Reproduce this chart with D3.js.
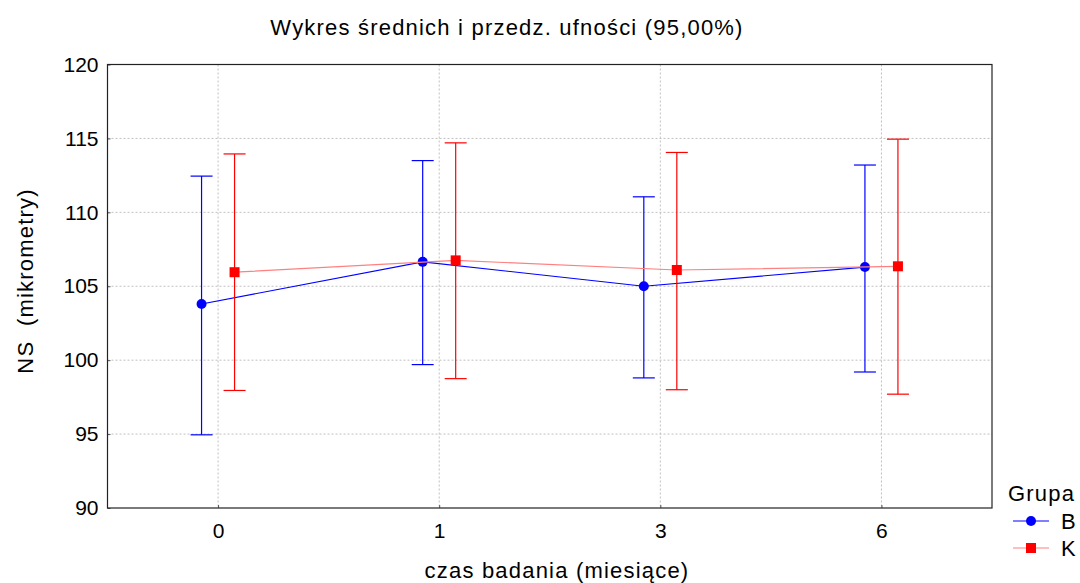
<!DOCTYPE html>
<html>
<head>
<meta charset="utf-8">
<script src="https://cdn.jsdelivr.net/npm/d3@7"></script>
<style>
  body { margin: 0; background: #fff; }
  text { font-family: "Liberation Sans", Arial, sans-serif; fill: #000; }
  .lbl { letter-spacing: 1.2px; white-space: pre; font-size: 22px; }
</style>
</head>
<body>
<div id="chart"></div>
<script>
// data
const times = ["0", "1", "3", "6"];
const groups = ["B", "K"];
const meanB = [103.8, 106.65, 105.0, 106.3];
const lowB  = [94.95, 99.7, 98.8, 99.2];
const highB = [112.45, 113.5, 111.05, 113.2];
const meanK = [105.95, 106.75, 106.1, 106.35];
const lowK  = [97.95, 98.75, 98.0, 97.7];
const highK = [113.95, 114.7, 114.05, 114.95];
const yTicks = [90, 95, 100, 105, 110, 115, 120];

const width = 1080, height = 583;
const margin = { left: 107.5, right: 88, top: 64.5, bottom: 75 };

const svg = d3.select("#chart").append("svg")
    .attr("width", width)
    .attr("height", height);

const x = d3.scalePoint()
    .domain(times)
    .range([margin.left, width - margin.right])
    .padding(0.5);

const y = d3.scaleLinear()
    .domain([90, 120])
    .range([height - margin.bottom, margin.top]);

// grid
svg.append("g").selectAll("line.gy")
    .data(yTicks.slice(1, -1))
    .enter().append("line")
    .attr("x1", margin.left).attr("x2", width - margin.right)
    .attr("y1", d => y(d)).attr("y2", d => y(d))
    .attr("stroke", "#c0c0c0")
    .attr("stroke-dasharray", "2,2");

svg.append("g").selectAll("line.gx")
    .data(times)
    .enter().append("line")
    .attr("x1", d => x(d)).attr("x2", d => x(d))
    .attr("y1", margin.top).attr("y2", height - margin.bottom)
    .attr("stroke", "#c0c0c0")
    .attr("stroke-dasharray", "2,2");

// axes
const yAxis = svg.append("g")
    .attr("transform", `translate(${margin.left},0)`)
    .call(d3.axisLeft(y).tickValues(yTicks).tickSize(-3).tickPadding(9));
const xAxis = svg.append("g")
    .attr("transform", `translate(0,${height - margin.bottom})`)
    .call(d3.axisBottom(x).tickSize(-3).tickPadding(15));

[yAxis, xAxis].forEach(a => {
    a.select(".domain").remove();
    a.selectAll(".tick line").attr("stroke", "#555");
    a.selectAll("text").style("font-size", "21px").attr("fill", "#000");
});

// frame
svg.append("rect")
    .attr("x", margin.left).attr("y", margin.top)
    .attr("width", width - margin.left - margin.right)
    .attr("height", height - margin.top - margin.bottom)
    .attr("fill", "none")
    .attr("stroke", "#222")
    .attr("stroke-width", 1.2);

const series = [
    { name: "B", mean: meanB, low: lowB, high: highB, dx: -16.5, color: "#0000ff", lineColor: "#0000ff" },
    { name: "K", mean: meanK, low: lowK, high: highK, dx: 16.5, color: "#ff0000", lineColor: "#ff8080" }
];

series.forEach(s => {
    const g = svg.append("g");
    const pts = times.map((t, i) => ({ t, m: s.mean[i], lo: s.low[i], hi: s.high[i] }));

    // whiskers
    g.selectAll("line.bar").data(pts).enter().append("line")
        .attr("x1", d => x(d.t) + s.dx).attr("x2", d => x(d.t) + s.dx)
        .attr("y1", d => y(d.lo)).attr("y2", d => y(d.hi))
        .attr("stroke", s.color).attr("stroke-width", 1.2);
    ["lo", "hi"].forEach(k => {
        g.selectAll("line.cap" + k).data(pts).enter().append("line")
            .attr("x1", d => x(d.t) + s.dx - 11).attr("x2", d => x(d.t) + s.dx + 11)
            .attr("y1", d => y(d[k])).attr("y2", d => y(d[k]))
            .attr("stroke", s.color).attr("stroke-width", 1.2);
    });

    // mean line
    g.append("path")
        .datum(pts)
        .attr("d", d3.line().x(d => x(d.t) + s.dx).y(d => y(d.m)))
        .attr("fill", "none")
        .attr("stroke", s.lineColor)
        .attr("stroke-width", 1.2);

    // markers
    if (s.name === "B") {
        g.selectAll("circle").data(pts).enter().append("circle")
            .attr("cx", d => x(d.t) + s.dx).attr("cy", d => y(d.m))
            .attr("r", 5).attr("fill", s.color);
    } else {
        g.selectAll("rect").data(pts).enter().append("rect")
            .attr("x", d => x(d.t) + s.dx - 5).attr("y", d => y(d.m) - 5)
            .attr("width", 10).attr("height", 10).attr("fill", s.color);
    }
});

// titles
svg.append("text")
    .attr("class", "lbl")
    .attr("x", 507).attr("y", 35)
    .attr("text-anchor", "middle")
    .text("Wykres średnich i przedz. ufności (95,00%)");

svg.append("text")
    .attr("class", "lbl")
    .attr("transform", "translate(33,281) rotate(-90)")
    .attr("text-anchor", "middle")
    .text("NS  (mikrometry)");

svg.append("text")
    .attr("class", "lbl")
    .attr("x", 557).attr("y", 578)
    .attr("text-anchor", "middle")
    .text("czas badania (miesiące)");

// legend
const legend = svg.append("g").attr("transform", "translate(1008,0)");
legend.append("text").attr("class", "lbl").attr("x", 0).attr("y", 501).text("Grupa");
series.forEach((s, i) => {
    const ly = 521 + i * 27;
    legend.append("line")
        .attr("x1", 5).attr("x2", 41).attr("y1", ly).attr("y2", ly)
        .attr("stroke", s.lineColor).attr("stroke-width", 1.2);
    if (s.name === "B") {
        legend.append("circle").attr("cx", 23).attr("cy", ly).attr("r", 5).attr("fill", s.color);
    } else {
        legend.append("rect").attr("x", 18).attr("y", ly - 5).attr("width", 10).attr("height", 10).attr("fill", s.color);
    }
    legend.append("text").attr("x", 53).attr("y", ly + 8).style("font-size", "22px").text(s.name);
});
</script>
</body>
</html>
